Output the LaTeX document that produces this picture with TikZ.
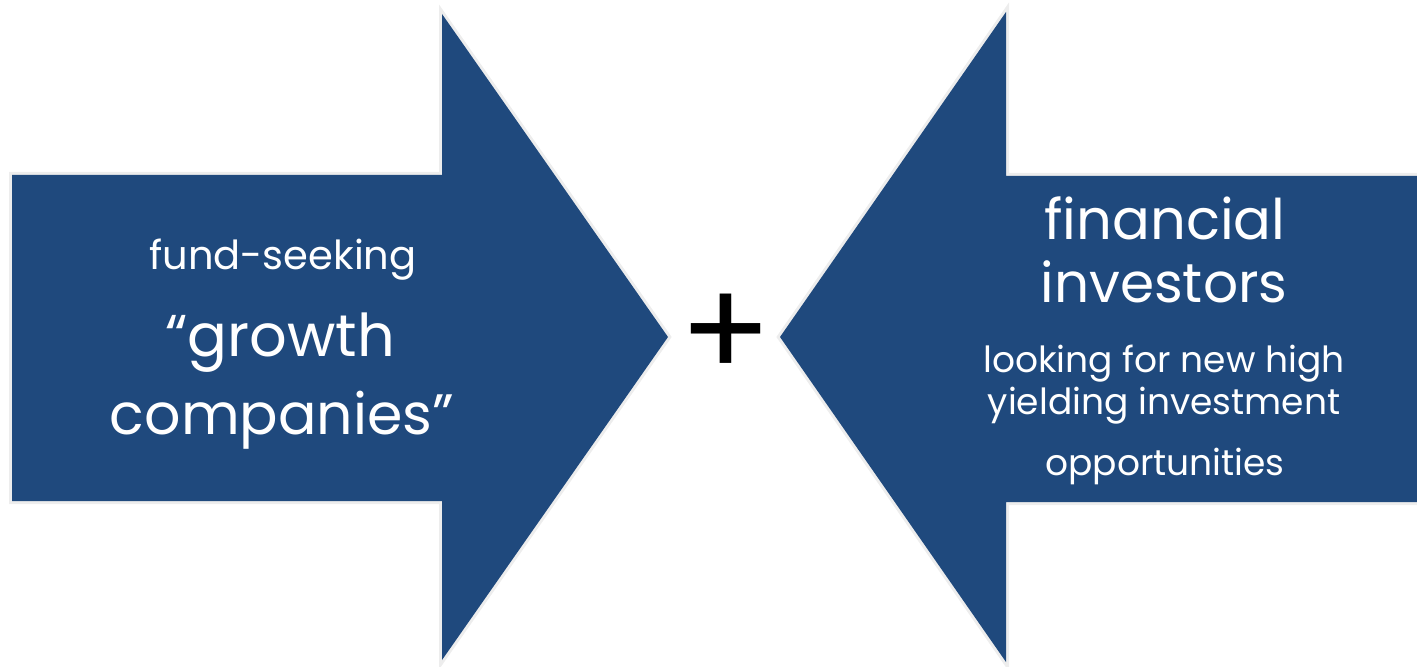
\documentclass[tikz,border=0pt]{standalone}
\usepackage{fontspec}
\setmainfont{Poppins}
\definecolor{arrowblue}{RGB}{31,73,125}

\begin{document}
\begin{tikzpicture}[x=0.5pt,y=-0.5pt,
	bigarrow/.style={fill=arrowblue,preaction={draw=black!7,line width=3pt}},
	arrowtext/.style={text=white,inner sep=0pt,anchor=base}]
	\clip (0,0) rectangle (1417,667);
	\path[bigarrow] (12,175)--(442,175)--(442,14)--(668,337)--(442,660)--(442,501)--(12,501)--cycle;
	\path[bigarrow] (1425,176)--(1006,176)--(1006,12)--(780,337)--(1006,662)--(1006,502)--(1425,502)--cycle;
	\node[inner sep=0pt,font=\fontsize{68}{68}\selectfont] (plus) at (726,336) {+};
	\node[arrowtext,font=\fontsize{20}{24}\selectfont] (seeking) at (283,270) {fund-seeking};
	\node[arrowtext,font=\fontsize{29.5}{36}\selectfont] (growth) at (280,357) {“growth};
	\node[arrowtext,font=\fontsize{28.5}{36}\selectfont] (companies) at (282,435) {companies”};
	\node[arrowtext,font=\fontsize{28}{34}\selectfont] (financial) at (1165,240) {financial};
	\node[arrowtext,font=\fontsize{27.5}{34}\selectfont] (investors) at (1164,303) {investors};
	\node[arrowtext,font=\fontsize{18}{22}\selectfont] (looking) at (1164,373) {looking for new high};
	\node[arrowtext,font=\fontsize{18}{22}\selectfont] (yielding) at (1164,415) {yielding investment};
	\node[arrowtext,font=\fontsize{18}{22}\selectfont] (chances) at (1165,475) {opportunities};
\end{tikzpicture}
\end{document}
